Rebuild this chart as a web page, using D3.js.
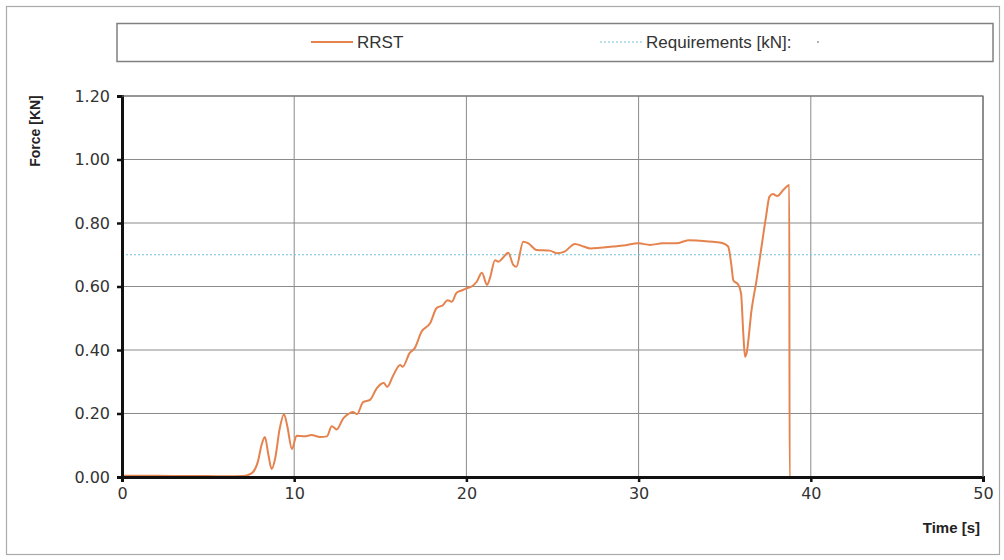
<!DOCTYPE html>
<html>
<head>
<meta charset="utf-8">
<script src="https://cdn.jsdelivr.net/npm/d3@7"></script>
<style>
  body { margin: 0; background: #fff; }
  svg { display: block; }
</style>
</head>
<body>
<div id="chart"></div>
<script>
// RRST force reading
const time = [0, 2, 4, 5, 6, 7, 7.3, 7.6, 7.9, 8.1, 8.3, 8.5, 8.69, 8.9, 9.15, 9.41, 9.6, 9.87, 10.14, 10.6, 11.0, 11.5, 11.9,
    12.18, 12.47, 12.85, 13.13, 13.4, 13.65, 14.0, 14.4, 14.8, 15.2, 15.4, 15.75, 16.15, 16.3, 16.7, 17.0, 17.4,
    17.9, 18.27, 18.65, 18.9, 19.15, 19.43, 19.8, 20.0, 20.3, 20.6, 20.9, 21.2, 21.37, 21.66, 21.86, 22.1, 22.43,
    22.72, 22.9, 23.3, 23.6, 24.07, 24.85, 25.24, 25.7, 26.3, 26.8, 27.2, 27.76, 28.5, 29.1, 30.0, 30.66, 31.4,
    32.2, 32.9, 33.57, 34.3, 34.9, 35.2, 35.4, 35.5, 35.8, 35.95, 36.08, 36.18, 36.27, 36.56, 36.85, 37.14, 37.4,
    37.6, 37.8, 38.05, 38.4, 38.75, 38.77, 39.5, 40.5];
const force = [0.004, 0.004, 0.003, 0.003, 0.002, 0.003, 0.006, 0.015, 0.05, 0.1, 0.126, 0.07, 0.025, 0.06, 0.15, 0.198, 0.16, 0.088, 0.13,
    0.128, 0.132, 0.126, 0.128,
    0.16, 0.15, 0.185, 0.198, 0.205, 0.198, 0.236, 0.243, 0.28, 0.296, 0.284, 0.32, 0.353, 0.347, 0.39, 0.406, 0.458,
    0.485, 0.532, 0.542, 0.557, 0.552, 0.58, 0.589, 0.594, 0.6, 0.615, 0.643, 0.605, 0.627, 0.683, 0.678, 0.689, 0.706,
    0.668, 0.662, 0.741, 0.736, 0.715, 0.713, 0.705, 0.71, 0.734, 0.726, 0.72, 0.722, 0.726, 0.729, 0.736, 0.731, 0.736,
    0.736, 0.746, 0.744, 0.741, 0.736, 0.726, 0.662, 0.62, 0.605, 0.578, 0.452, 0.379, 0.39, 0.526, 0.62, 0.726, 0.82,
    0.883, 0.891, 0.885, 0.904, 0.92, 0.0, 0.0, 0.0];

const requirement = 0.70;
const xTicks = [0, 10, 20, 30, 40, 50];
const yTicks = [0, 0.2, 0.4, 0.6, 0.8, 1.0, 1.2];
const seriesNames = ["RRST", "Requirements [kN]:"];

let W = 1004, H = 560;
let plot = {left: 122, right: 983, top: 96, bottom: 477};

let svg = d3.select("#chart")
    .append("svg")
    .attr("width", W)
    .attr("height", H);

// outer frame
svg.append("rect")
    .attr("x", 6.5).attr("y", 6.5)
    .attr("width", 993).attr("height", 548)
    .attr("fill", "#fff")
    .attr("stroke", "#aaa")
    .attr("stroke-width", 1.2);

let xScale = d3.scaleLinear()
    .domain([0, 50])
    .range([plot.left, plot.right]);

let yScale = d3.scaleLinear()
    .domain([0, 1.2])
    .range([plot.bottom, plot.top]);

// grid
let grid = svg.append("g").attr("stroke", "#8a8a8a").attr("stroke-width", 1);
grid.selectAll(".hg")
    .data(yTicks.filter(d => d > 0))
    .enter()
    .append("line")
    .attr("x1", plot.left).attr("x2", plot.right)
    .attr("y1", d => yScale(d)).attr("y2", d => yScale(d));
grid.selectAll(".vg")
    .data(xTicks.filter(d => d > 0))
    .enter()
    .append("line")
    .attr("x1", d => xScale(d)).attr("x2", d => xScale(d))
    .attr("y1", plot.top).attr("y2", plot.bottom);

// requirement line
svg.append("line")
    .attr("x1", plot.left).attr("x2", plot.right)
    .attr("y1", yScale(requirement)).attr("y2", yScale(requirement))
    .attr("stroke", "#6fc2dc")
    .attr("stroke-width", 1.2)
    .attr("stroke-dasharray", "2,2");

// RRST curve
let line = d3.line()
    .x((d, i) => xScale(time[i]))
    .y(d => yScale(d))
    .curve(d3.curveMonotoneX);

svg.append("path")
    .datum(force)
    .attr("d", line)
    .attr("fill", "none")
    .attr("stroke", "#e5834e")
    .attr("stroke-width", 2)
    .attr("stroke-linejoin", "round");

// axes
let yAxis = svg.append("g")
    .attr("transform", "translate(" + plot.left + ",0)")
    .call(d3.axisLeft(yScale).tickValues(yTicks).tickFormat(d3.format(".2f")).tickSize(5).tickPadding(7));
let xAxis = svg.append("g")
    .attr("transform", "translate(0," + plot.bottom + ")")
    .call(d3.axisBottom(xScale).tickValues(xTicks).tickSize(5).tickPadding(6));

[yAxis, xAxis].forEach(a => {
    a.select(".domain").attr("stroke", "#111").attr("stroke-width", 3);
    a.selectAll(".tick line").attr("stroke", "#111").attr("stroke-width", 2.5);
    a.selectAll("text")
        .attr("fill", "#333")
        .style("font-family", "'DejaVu Sans', Verdana, sans-serif")
        .style("font-size", "16px");
});

// top/right border of plot
svg.append("path")
    .attr("d", "M" + plot.left + "," + plot.top + "H" + plot.right + "V" + plot.bottom)
    .attr("fill", "none")
    .attr("stroke", "#6a6a6a")
    .attr("stroke-width", 1.2);

// axis titles
svg.append("text")
    .attr("transform", "translate(40,131) rotate(-90)")
    .attr("text-anchor", "middle")
    .style("font-family", "'Liberation Sans', Arial, sans-serif")
    .style("font-weight", "bold")
    .style("font-size", "14px")
    .attr("fill", "#222")
    .text("Force [KN]");

svg.append("text")
    .attr("x", 980).attr("y", 533)
    .attr("text-anchor", "end")
    .style("font-family", "'Liberation Sans', Arial, sans-serif")
    .style("font-weight", "bold")
    .style("font-size", "15px")
    .attr("fill", "#222")
    .text("Time [s]");

// legend
svg.append("rect")
    .attr("x", 117).attr("y", 23.5)
    .attr("width", 876).attr("height", 38)
    .attr("fill", "#fff")
    .attr("stroke", "#808080")
    .attr("stroke-width", 1.5);

let legend = [
    {name: seriesNames[0], x: 311, color: "#e5834e", dash: null, w: 2},
    {name: seriesNames[1], x: 600, color: "#6fc2dc", dash: "2,2", w: 1.2}
];
let lg = svg.selectAll(".leg")
    .data(legend)
    .enter()
    .append("g")
    .attr("transform", d => "translate(" + d.x + ",42)");
lg.append("line")
    .attr("x1", 0).attr("x2", 42)
    .attr("stroke", d => d.color)
    .attr("stroke-width", d => d.w)
    .attr("stroke-dasharray", d => d.dash);
lg.append("text")
    .attr("x", 46).attr("y", 6)
    .style("font-family", "'Liberation Sans', Arial, sans-serif")
    .style("font-size", "17px")
    .attr("fill", "#333")
    .text(d => d.name);

svg.append("circle")
    .attr("cx", 818).attr("cy", 42).attr("r", 1)
    .attr("fill", "#999");
</script>
</body>
</html>
